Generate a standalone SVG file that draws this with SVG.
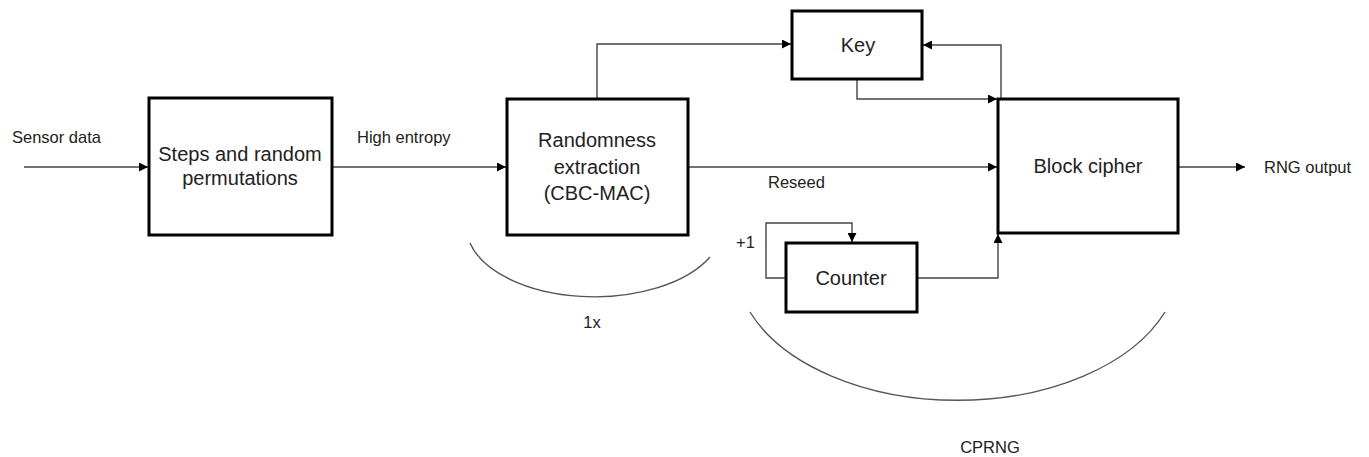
<svg xmlns="http://www.w3.org/2000/svg" width="1369" height="457" viewBox="0 0 1369 457">
<style>
.box{fill:#fff;stroke:#000;stroke-width:3}
.ln{fill:none;stroke:#444;stroke-width:1.4}
.arc{fill:none;stroke:#555;stroke-width:1.4}
.big{font-family:"Liberation Sans",Arial,sans-serif;font-size:20px;fill:#222;text-anchor:middle}
.sm{font-family:"Liberation Sans",Arial,sans-serif;font-size:16.5px;fill:#222}
</style>
<defs>
<marker id="ah" viewBox="0 0 10 10" refX="10" refY="5" markerWidth="10" markerHeight="9" markerUnits="userSpaceOnUse" orient="auto">
<path d="M0,0 L10,5 L0,10 z" fill="#000"/>
</marker>
</defs>
<rect width="1369" height="457" fill="#fff"/>
<g id="connectors">
<path class="ln" d="M24,167 H148" marker-end="url(#ah)"/>
<path class="ln" d="M332,167 H506" marker-end="url(#ah)"/>
<path class="ln" d="M597,99 V44 H791" marker-end="url(#ah)"/>
<path class="ln" d="M1001,99 V45 H923" marker-end="url(#ah)"/>
<path class="ln" d="M857,79 V99 H997" marker-end="url(#ah)"/>
<path class="ln" d="M688,167 H997" marker-end="url(#ah)"/>
<path class="ln" d="M1178,167 H1245" marker-end="url(#ah)"/>
<path class="ln" d="M917,278 H998 V234" marker-end="url(#ah)"/>
<path class="ln" d="M786,278 H766 V223 H852 V242" marker-end="url(#ah)"/>
<path class="arc" d="M470,243 A128 70 0 0 0 710,257"/>
<path class="arc" d="M750,312 A222 137 0 0 0 1165,312"/>
</g>
<g id="steps">
<rect class="box" x="149" y="98" width="183" height="137"/>
<text class="big" x="240" y="161">Steps and random</text>
<text class="big" x="240" y="185">permutations</text>
</g>
<g id="extract">
<rect class="box" x="507" y="99" width="181" height="136"/>
<text class="big" x="597" y="147">Randomness</text>
<text class="big" x="597" y="174">extraction</text>
<text class="big" x="597" y="200">(CBC-MAC)</text>
</g>
<g id="key">
<rect class="box" x="792" y="11" width="130" height="68"/>
<text class="big" x="858" y="52">Key</text>
</g>
<g id="block">
<rect class="box" x="998" y="99" width="180" height="134"/>
<text class="big" x="1088" y="173">Block cipher</text>
</g>
<g id="counter">
<rect class="box" x="786" y="243" width="131" height="69"/>
<text class="big" x="851" y="285">Counter</text>
</g>
<g id="labels">
<text class="sm" x="12" y="143">Sensor data</text>
<text class="sm" x="357" y="143">High entropy</text>
<text class="sm" x="768" y="188">Reseed</text>
<text class="sm" x="1264" y="173">RNG output</text>
<text class="sm" x="736" y="248">+1</text>
<text class="sm" x="592" y="328" text-anchor="middle">1x</text>
<text class="sm" x="990" y="453" text-anchor="middle">CPRNG</text>
</g>
</svg>
